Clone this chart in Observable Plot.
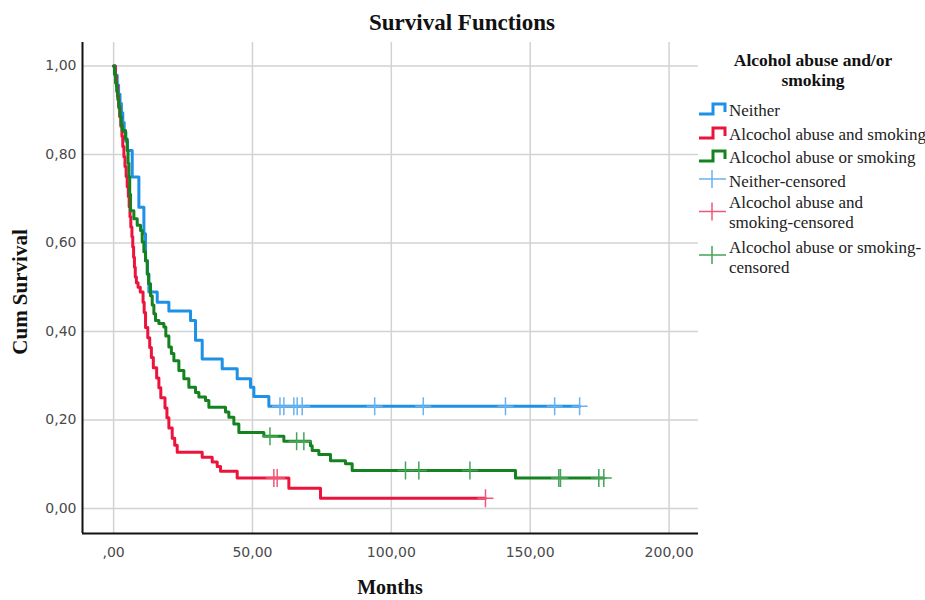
<!DOCTYPE html>
<html><head><meta charset="utf-8">
<script src="https://cdn.jsdelivr.net/npm/d3@7"></script>
<script src="https://cdn.jsdelivr.net/npm/@observablehq/plot@0.6"></script>
<style>
body{margin:0;background:#fff}
#wrap{position:relative;width:925px;height:600px}
#wrap svg{position:absolute;left:0;top:0}
</style>
</head><body><div id="wrap"></div>
<script>
// ---- data ----
const groups = ["Neither", "Alcochol abuse and smoking", "Alcochol abuse or smoking"];
const lineColors = ["#1e90e6", "#eb143c", "#14821e"];
const censorColors = ["#6ab2f0", "#f0587a", "#46a45a"];

// Neither: times of drops (months) and survival after each drop
const neitherTimes = [0.7,1.3,1.8,2.3,2.8,3.3,3.8,4.4,5.0,6.7,9.1,10.9,11.5,12.2,12.7,15.7,19.9,27.7,29.5,31.9,39.1,44.5,49.3,50.5,55.9];
const neitherSurv  = [0.979,0.957,0.936,0.915,0.894,0.872,0.851,0.830,0.809,0.749,0.681,0.621,0.560,0.530,0.489,0.466,0.446,0.425,0.380,0.338,0.316,0.293,0.274,0.253,0.231];
const neitherCensored = [59.9,61.3,64.9,66.1,67.9,94.0,111.5,141.1,158.8,167.8];

// Alcochol abuse and smoking
const bothTimes = [0.6,1.0,1.4,1.8,2.2,2.6,3.0,3.3,3.7,4.1,4.5,4.9,5.3,5.6,5.9,6.2,6.6,6.9,7.2,7.5,7.8,8.2,8.8,9.6,10.6,11.0,11.5,12.3,13.0,13.6,14.3,15.5,16.3,17.0,18.5,19.2,19.9,21.1,22.0,22.9,31.9,35.5,37.3,38.5,44.5,63.1,74.5];
const bothSurv  = [0.977,0.955,0.932,0.909,0.886,0.864,0.841,0.818,0.795,0.773,0.750,0.727,0.705,0.682,0.659,0.636,0.614,0.591,0.568,0.545,0.523,0.510,0.500,0.489,0.466,0.443,0.409,0.386,0.364,0.341,0.318,0.295,0.273,0.250,0.227,0.205,0.182,0.159,0.143,0.127,0.116,0.105,0.095,0.084,0.069,0.046,0.023];
const bothCensored = [57.7,58.9,133.9];

// Alcochol abuse or smoking
const eitherTimes = [0.3,0.7,1.1,1.5,1.9,2.3,2.7,3.1,4.3,4.9,5.2,5.5,5.8,6.1,7.3,8.5,9.7,10.3,10.9,11.5,12.1,12.6,13.3,13.9,14.5,15.1,16.3,18.1,18.8,19.9,20.8,21.7,23.5,25.3,27.1,29.5,30.7,33.1,34.3,40.3,41.5,43.3,45.1,54.1,61.3,70.9,71.5,73.9,78.1,83.5,85.9,144.7];
const eitherSurv  = [0.981,0.962,0.943,0.924,0.905,0.886,0.867,0.854,0.835,0.809,0.780,0.750,0.710,0.673,0.655,0.640,0.628,0.602,0.580,0.560,0.530,0.508,0.481,0.460,0.440,0.425,0.418,0.410,0.390,0.365,0.350,0.334,0.312,0.293,0.274,0.262,0.252,0.244,0.229,0.218,0.206,0.191,0.172,0.163,0.152,0.142,0.131,0.122,0.108,0.101,0.086,0.069];
const eitherCensored = [56.3,65.9,68.5,105.1,109.9,128.3,160.3,160.9,174.7,176.5];

const xTicks = [0, 50, 100, 150, 200];
const xTickLabels = [",00", "50,00", "100,00", "150,00", "200,00"];
const yTicks = [0, 0.2, 0.4, 0.6, 0.8, 1.0];
const yTickLabels = ["0,00", "0,20", "0,40", "0,60", "0,80", "1,00"];
const xDomain = [-11.2, 210.6];
const yDomain = [-0.0565, 1.053];

// ---- build ----
const seriesT = [neitherTimes, bothTimes, eitherTimes];
const seriesS = [neitherSurv, bothSurv, eitherSurv];
const seriesC = [neitherCensored, bothCensored, eitherCensored];

function curve(i) {
  const T = seriesT[i], S = seriesS[i], C = seriesC[i];
  const pts = [{t: 0, s: 1}];
  T.forEach((t, j) => pts.push({t, s: S[j]}));
  pts.push({t: d3.max(C), s: S[S.length - 1]});
  return pts;
}
function survAt(i, c) {
  const T = seriesT[i], S = seriesS[i];
  let s = 1;
  T.forEach((t, j) => { if (t <= c) s = S[j]; });
  return s;
}
const plusSymbol = {
  draw(ctx) { ctx.moveTo(-8, 0); ctx.lineTo(8, 0); ctx.moveTo(0, -9); ctx.lineTo(0, 9); }
};

const marks = [
  Plot.ruleX(xTicks, {stroke: "#d2d2d2", strokeWidth: 1.5}),
  Plot.ruleY(yTicks, {stroke: "#d2d2d2", strokeWidth: 1.5}),
  Plot.ruleX([xDomain[0]], {stroke: "#111", strokeWidth: 2}),
  Plot.ruleY([yDomain[0]], {stroke: "#111", strokeWidth: 2})
];
groups.forEach((g, i) => {
  marks.push(Plot.line(curve(i), {x: "t", y: "s", curve: "step-after", stroke: lineColors[i], strokeWidth: 3}));
});
groups.forEach((g, i) => {
  const cens = seriesC[i].map(c => ({t: c, s: survAt(i, c)}));
  marks.push(Plot.dot(cens, {x: "t", y: "s", symbol: plusSymbol, fill: "none", stroke: censorColors[i], strokeWidth: 1.5}));
});

const chart = Plot.plot({
  width: 925, height: 600,
  marginLeft: 82, marginRight: 227, marginTop: 42, marginBottom: 67,
  style: {fontFamily: "DejaVu Sans", fontSize: "14px", color: "#4a4a4a", background: "white"},
  x: {domain: xDomain, ticks: xTicks, tickFormat: d => xTickLabels[xTicks.indexOf(d)], tickSize: 0, tickPadding: 14, label: null},
  y: {domain: yDomain, ticks: yTicks, tickFormat: d => yTickLabels[yTicks.indexOf(d)], tickSize: 0, tickPadding: 6, label: null},
  marks
});
document.getElementById("wrap").appendChild(chart);

// ---- overlay: titles and legend ----
const svg = d3.select("#wrap").append("svg").attr("width", 925).attr("height", 600)
  .style("font-family", "'Liberation Serif','Times New Roman',serif");
svg.append("text").attr("x", 462).attr("y", 30).attr("text-anchor", "middle")
  .attr("font-weight", "bold").attr("font-size", 23).attr("fill", "#111").text("Survival Functions");
svg.append("text").attr("transform", "translate(27,292) rotate(-90)").attr("text-anchor", "middle")
  .attr("font-weight", "bold").attr("font-size", 21).attr("fill", "#111").text("Cum Survival");
svg.append("text").attr("x", 390).attr("y", 594).attr("text-anchor", "middle")
  .attr("font-weight", "bold").attr("font-size", 20).attr("fill", "#111").text("Months");

const lg = svg.append("g");
lg.append("text").attr("x", 813).attr("y", 66).attr("text-anchor", "middle").attr("font-weight", "bold")
  .attr("font-size", 17.5).attr("fill", "#111").text("Alcohol abuse and/or");
lg.append("text").attr("x", 813).attr("y", 86).attr("text-anchor", "middle").attr("font-weight", "bold")
  .attr("font-size", 17.5).attr("fill", "#111").text("smoking");

const itemBase = [116, 140, 163];
groups.forEach((g, i) => {
  const b = itemBase[i];
  lg.append("path").attr("d", `M699,${b - 2}H713V${b - 12}H725V${b - 4}`)
    .attr("fill", "none").attr("stroke", lineColors[i]).attr("stroke-width", 3);
  lg.append("text").attr("x", 729).attr("y", b).attr("font-size", 17).attr("fill", "#222").text(g);
});
const censLabels = [["Neither-censored"], ["Alcochol abuse and", "smoking-censored"], ["Alcochol abuse or smoking-", "censored"]];
const censBase = [186.5, 208, 253];
const censCenter = [179, 211.5, 255];
censLabels.forEach((lines, i) => {
  const cy = censCenter[i];
  lg.append("path").attr("d", `M699,${cy}H726M712,${cy - 9}V${cy + 9}`)
    .attr("fill", "none").attr("stroke", censorColors[i]).attr("stroke-width", 1.5);
  lines.forEach((t, k) => {
    lg.append("text").attr("x", 729).attr("y", censBase[i] + k * 20).attr("font-size", 17).attr("fill", "#222").text(t);
  });
});
</script>
</body></html>
